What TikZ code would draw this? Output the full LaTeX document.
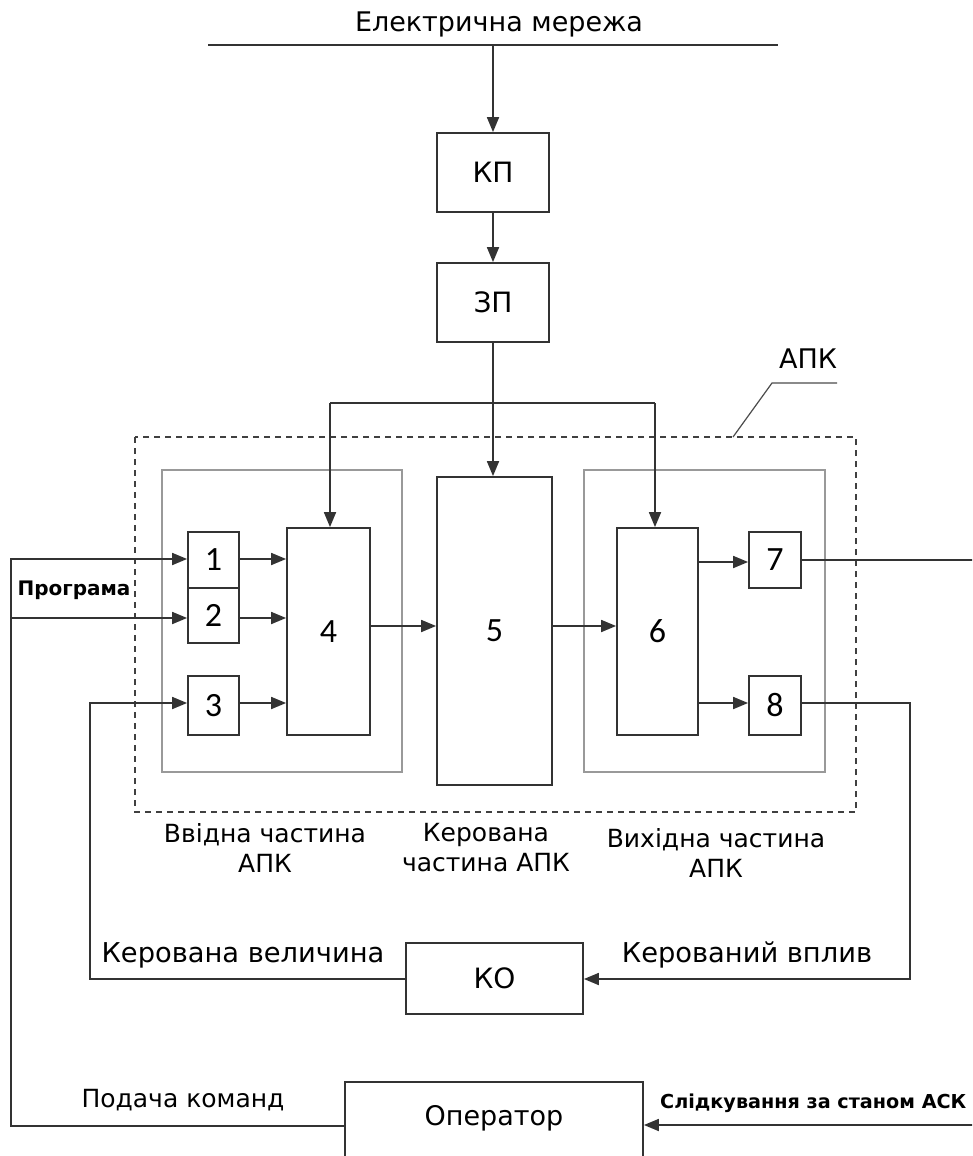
\documentclass[tikz,border=0pt]{standalone}
\usepackage{fontspec}
\setmainfont{DejaVu Sans}
\newfontfamily\digitfont{Carlito}
\usetikzlibrary{arrows.meta,calc}
\newcommand{\fs}[1]{\fontsize{#1}{#1}\selectfont}
\tikzset{
  ln/.style={draw=black!80, line width=1.8pt},
  arr/.style={ln, -{Triangle[length=15pt,width=12pt]}},
  blk/.style={ln, rectangle, inner sep=0pt, fill=white},
  grp/.style={draw=black!40, line width=1.4pt},
  dsh/.style={draw=black!75, line width=1.3pt, dash pattern=on 6pt off 5pt},
  txt/.style={inner sep=0pt, text=black},
  lab/.style={txt, font=\fontsize{25}{30}\selectfont, align=center}
}
\begin{document}
\begin{tikzpicture}[x=1pt,y=-1pt]
\clip (0,0) rectangle (972,1156);
\fill[white] (0,0) rectangle (972,1156);

% group frames
\draw[dsh] (135,437) rectangle (856,812);
\draw[grp] (162,470) rectangle (402,772);
\draw[grp] (584,470) rectangle (825,772);

% mains
\coordinate (netL) at (208,45);
\coordinate (netR) at (778,45);
\coordinate (netJ) at (493,45);
\draw[ln] (netL) -- (netR);
\node[txt, font=\fs{27}] (title) at (499,24) {Електрична мережа};

% blocks
\node[blk, minimum width=112pt, minimum height=79pt, font=\fs{28}] (KP) at (493,172.5) {КП};
\node[blk, minimum width=112pt, minimum height=79pt, font=\fs{28}] (ZP) at (493,302.5) {ЗП};
\node[blk, minimum width=51pt, minimum height=56pt, font=\digitfont\fs{34}] (b1) at (213.5,560) {1};
\node[blk, minimum width=51pt, minimum height=55pt, font=\digitfont\fs{34}] (b2) at (213.5,615.5) {2};
\node[blk, minimum width=51pt, minimum height=59pt, font=\digitfont\fs{34}] (b3) at (213.5,705.5) {3};
\node[blk, minimum width=83pt, minimum height=207pt, font=\digitfont\fs{34}] (b4) at (328.5,631.5) {4};
\node[blk, minimum width=115pt, minimum height=308pt, font=\digitfont\fs{34}] (b5) at (494.5,631) {5};
\node[blk, minimum width=81pt, minimum height=207pt, font=\digitfont\fs{34}] (b6) at (657.5,631.5) {6};
\node[blk, minimum width=52pt, minimum height=56pt, font=\digitfont\fs{34}] (b7) at (775,560) {7};
\node[blk, minimum width=52pt, minimum height=59pt, font=\digitfont\fs{34}] (b8) at (775,705.5) {8};
\node[blk, minimum width=177pt, minimum height=71pt, font=\fs{28}] (KO) at (494.5,978.5) {КО};
\node[blk, minimum width=298pt, minimum height=88pt] (op) at (494,1126) {};
\node[txt, font=\fs{27}] (optext) at (494,1118) {Оператор};

% APK label and leader
\node[txt, font=\fs{27}] (apk) at (808,359) {АПК};
\coordinate (ldA) at (733,437);
\coordinate (ldB) at (772,383);
\coordinate (ldC) at (837,383);
\draw[draw=black!70, line width=1.2pt] (ldA) -- (ldB) -- (ldC);

% supply path
\draw[arr] (netJ) -- (KP.north);
\draw[arr] (KP.south) -- (ZP.north);
\draw[arr] (ZP.south) -- (ZP.south |- b5.north);
\coordinate (brL) at (330,403);
\coordinate (brR) at (655,403);
\draw[ln] (brL) -- (brR);
\draw[arr] (brL) -- (brL |- b4.north);
\draw[arr] (brR) -- (brR |- b6.north);

% inputs
\coordinate (pA) at (11,559);
\coordinate (pB) at (11,618);
\coordinate (pC) at (11,1126);
\draw[arr] (op.west |- pC) -- (pC) -- (pA) -- (pA -| b1.west);
\draw[arr] (pB) -- (pB -| b2.west);
\coordinate (fA) at (90,979);
\coordinate (fB) at (90,703);
\draw[arr] (KO.west |- fA) -- (fA) -- (fB) -- (fB -| b3.west);
\draw[arr] (b1.east |- pA) -- (pA -| b4.west);
\draw[arr] (b2.east |- pB) -- (pB -| b4.west);
\draw[arr] (b3.east |- fB) -- (fB -| b4.west);
\coordinate (mid) at (400,626);
\draw[arr] (b4.east |- mid) -- (mid -| b5.west);
\draw[arr] (b5.east |- mid) -- (mid -| b6.west);

% outputs
\coordinate (oA) at (0,562);
\coordinate (oB) at (910,703);
\coordinate (oC) at (910,979);
\coordinate (oR) at (975,560);
\draw[arr] (b6.east |- oA) -- (oA -| b7.west);
\draw[arr] (b6.east |- oB) -- (oB -| b8.west);
\draw[ln] (b7.east |- oR) -- (oR);
\draw[arr] (b8.east |- oB) -- (oB) -- (oC) -- (KO.east |- oC);
\coordinate (sR) at (975,1125);
\draw[arr] (sR) -- (op.east |- sR);

% labels
\node[txt, font=\bfseries\fs{20}] (prog) at (74,590) {Програма};
\node[lab] (inlab) at (265,848) {Ввідна частина\\АПК};
\node[lab] (ctrlab) at (486,848) {Керована\\частина АПК};
\node[lab] (outlab) at (716,853) {Вихідна частина\\АПК};
\node[txt, font=\fs{27.3}] (kvel) at (243,955) {Керована величина};
\node[txt, font=\fs{27.3}] (kvpl) at (747,955) {Керований вплив};
\node[txt, font=\fs{25}] (podk) at (183,1100) {Подача команд};
\node[txt, font=\bfseries\fs{19.2}, anchor=west] (sled) at (660,1103) {Слідкування за станом АСК};
\end{tikzpicture}
\end{document}
